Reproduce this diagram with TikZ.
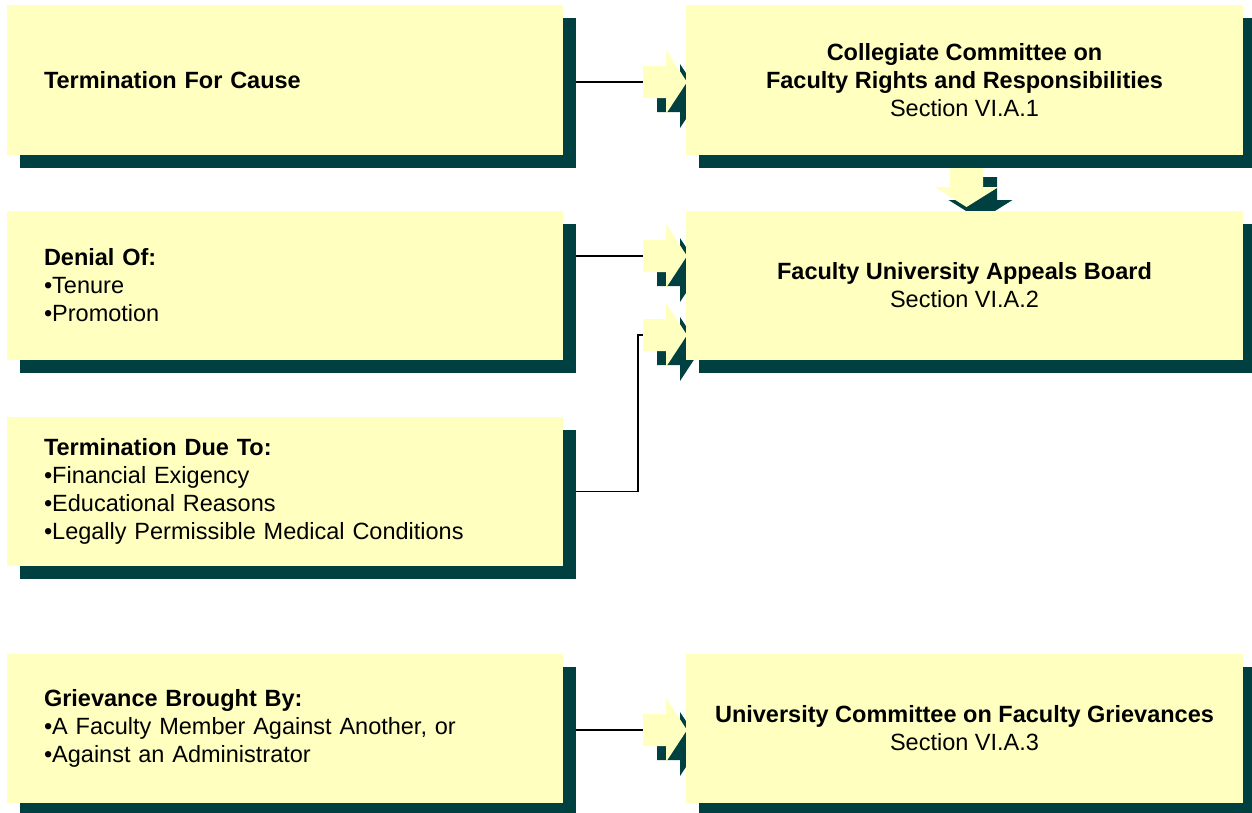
\documentclass[tikz,border=0pt]{standalone}
\usepackage{fontspec}
\setmainfont{Liberation Sans}
\usetikzlibrary{shadows,backgrounds}
\definecolor{yel}{HTML}{FFFFC0}
\definecolor{dark}{HTML}{004040}
\begin{document}
\begin{tikzpicture}[x=1pt,y=-1pt,
  box/.style={fill=yel, minimum width=556pt, minimum height=149.5pt, inner sep=0pt,
    drop shadow={shadow xshift=13pt,shadow yshift=-13pt,fill=dark,opacity=1},
    font=\fontsize{23.5}{28}\selectfont},
  lbox/.style={box, text width=482pt, align=left},
  rbox/.style={box, minimum width=557pt, align=center},
  conn/.style={line width=1.8pt, black},
  rarr/.pic={
    \fill[dark] (14,-2)--(37,-2)--(37,-18)--(58,14)--(37,46)--(37,30)--(14,30)--cycle;
    \fill[yel] (0,-16)--(23,-16)--(23,-32)--(44,0)--(23,32)--(23,16)--(0,16)--cycle;},
  darr/.pic={
    \fill[dark] (-2.5,13)--(30.5,13)--(30.5,36)--(46,36)--(14,56)--(-18,36)--(-2.5,36)--cycle;
    \fill[yel] (-16.5,0)--(16.5,0)--(16.5,23)--(32,23)--(0,43)--(-32,23)--(-16.5,23)--cycle;}
]
\clip (0,0) rectangle (1252,812);

\node[lbox] (L1) at (285,80) {\textbf{Termination For Cause}};
\node[lbox] (L2) at (285,285.5) {\textbf{Denial Of:}\\•Tenure\\•Promotion};
\node[lbox] (L3) at (285,491.5) {\textbf{Termination Due To:}\\•Financial Exigency\\•Educational Reasons\\•Legally Permissible Medical Conditions};
\node[lbox] (L4) at (285,728.5) {\textbf{Grievance Brought By:}\\•A Faculty Member Against Another, or\\•Against an Administrator};

\node[rbox] (R1) at (964.5,80) {\textbf{Collegiate Committee on}\\\textbf{Faculty Rights and Responsibilities}\\Section VI.A.1};
\node[rbox] (R2) at (964.5,285.5) {\textbf{Faculty University Appeals Board}\\Section VI.A.2};
\node[rbox] (R4) at (964.5,728.5) {\textbf{University Committee on Faculty Grievances}\\Section VI.A.3};

\coordinate (A1) at (643,82);
\coordinate (A2) at (643,256);
\coordinate (A3) at (643,335);
\coordinate (A4) at (643,730);
\coordinate (D1) at (966.5,164);
\coordinate (B3) at (638,0);

\begin{pgfonlayer}{background}
  \draw[conn] (L1.east |- A1) -- (A1);
  \draw[conn] (L2.east |- A2) -- (A2);
  \draw[conn] (L3.east) -- (B3 |- L3.east) |- (A3);
  \draw[conn] (L4.east |- A4) -- (A4);
  \pic at (A1) {rarr};
  \pic at (A2) {rarr};
  \pic at (A3) {rarr};
  \pic at (A4) {rarr};
  \pic at (D1) {darr};
\end{pgfonlayer}
\end{tikzpicture}
\end{document}
